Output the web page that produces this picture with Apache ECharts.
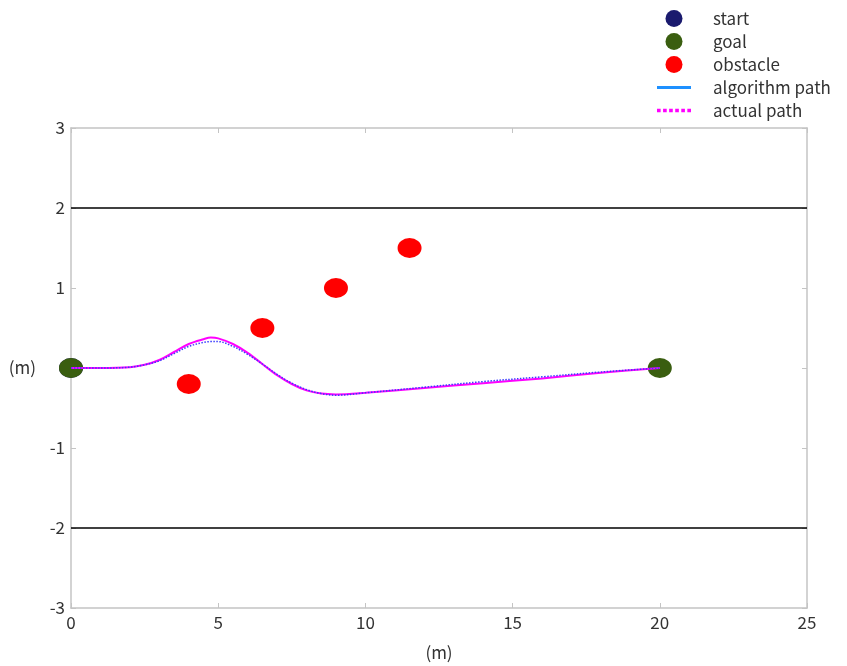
<!DOCTYPE html>
<html>
<head>
<meta charset="utf-8">
<script src="https://cdn.jsdelivr.net/npm/echarts@6/dist/echarts.min.js"></script>
<style>
  html, body { margin: 0; padding: 0; background: #fff; }
  #chart { width: 847px; height: 666px; }
</style>
</head>
<body>
<div id="chart"></div>
<script>
// Path planning scene: start/goal, obstacles, lane boundaries and two trajectories
const startPoint = [[0, 0]];
const goalPoints = [[0, 0], [20, 0]];
const obstacles = [[4, -0.2], [6.5, 0.5], [9, 1], [11.5, 1.5]];
const laneUpper = [[0, 2], [25, 2]];
const laneLower = [[0, -2], [25, -2]];

const pathX = [0, 1, 2, 2.5, 3, 3.5, 4, 4.5, 4.75, 5, 5.5, 6, 6.5, 7, 7.5, 8, 8.5, 9, 10, 12, 14, 16, 18, 20];
const algorithmY = [0, 0, 0.01, 0.04, 0.09, 0.18, 0.27, 0.32, 0.33, 0.33, 0.27, 0.17, 0.05, -0.08, -0.19, -0.27, -0.32, -0.34, -0.31, -0.24, -0.17, -0.11, -0.05, 0];
const actualY = [0, 0, 0.01, 0.04, 0.1, 0.2, 0.3, 0.36, 0.38, 0.37, 0.3, 0.19, 0.05, -0.09, -0.2, -0.28, -0.32, -0.33, -0.31, -0.25, -0.19, -0.13, -0.06, 0];

const FONT = '"Noto Sans CJK SC", "Noto Sans", sans-serif';
const AXIS_GRAY = '#c4c4c4';
const TEXT = '#333';

const zip = (xs, ys) => xs.map((x, i) => [x, ys[i]]);

const chart = echarts.init(document.getElementById('chart'), null, { renderer: 'canvas' });

// Frame axes on the top and right: line and inward ticks only
const frameAxis = {
  axisLine: { show: true, onZero: false, lineStyle: { color: AXIS_GRAY, width: 1.5 } },
  axisTick: { show: true, inside: true, length: 5, lineStyle: { color: AXIS_GRAY } },
  axisLabel: { show: false },
  splitLine: { show: false }
};

const dotIcon = 'path://' + [0, 5, 10, 15, 20, 25].map(x => `M${x},0 h3 v3 h-3 z`).join(' ') + ' M0,0 h0.01 v0.01 z M28,0 h0.01 v0.01 z';

chart.setOption({
  animation: false,
  backgroundColor: '#fff',
  textStyle: { fontFamily: FONT },
  grid: { left: 71, right: 40, top: 128, bottom: 55, containLabel: false },
  legend: {
    orient: 'vertical',
    left: 652,
    top: 5,
    itemWidth: 34,
    itemHeight: 17,
    itemGap: 6,
    textStyle: { fontSize: 17, color: TEXT, fontFamily: FONT, padding: [0, 0, 0, 17] },
    data: [
      { name: 'start', icon: 'circle' },
      { name: 'goal', icon: 'circle' },
      { name: 'obstacle', icon: 'circle' },
      { name: 'algorithm path', icon: 'path://M0,0 h34 v3 h-34 z', itemStyle: { color: '#1e90ff' } },
      { name: 'actual path', icon: dotIcon, itemStyle: { color: '#ff00ff' } }
    ]
  },
  xAxis: [
    {
      type: 'value', min: 0, max: 25, interval: 5,
      name: '(m)', nameLocation: 'middle', nameGap: 36,
      nameTextStyle: { fontSize: 17, color: TEXT, fontFamily: FONT },
      axisLine: { show: true, onZero: false, lineStyle: { color: AXIS_GRAY, width: 1.5 } },
      axisTick: { show: true, inside: true, length: 5, lineStyle: { color: AXIS_GRAY } },
      axisLabel: { fontSize: 17, color: TEXT, margin: 6, fontFamily: FONT },
      splitLine: { show: false }
    },
    Object.assign({ type: 'value', min: 0, max: 25, interval: 5, position: 'top' }, frameAxis)
  ],
  yAxis: [
    {
      type: 'value', min: -3, max: 3, interval: 1,
      name: '(m)', nameLocation: 'middle', nameGap: 35, nameRotate: 0,
      nameTextStyle: { fontSize: 17, color: TEXT, fontFamily: FONT },
      axisLine: { show: true, onZero: false, lineStyle: { color: AXIS_GRAY, width: 1.5 } },
      axisTick: { show: true, inside: true, length: 5, lineStyle: { color: AXIS_GRAY } },
      axisLabel: {
        fontSize: 17, color: TEXT, margin: 6, fontFamily: FONT,
        formatter: v => (v === 0 ? '' : String(v))
      },
      splitLine: { show: false }
    },
    Object.assign({ type: 'value', min: -3, max: 3, interval: 1, position: 'right' }, frameAxis)
  ],
  series: [
    {
      name: 'lane upper', type: 'line', data: laneUpper, showSymbol: false, silent: true,
      lineStyle: { color: '#000', width: 1.5 }, z: 1
    },
    {
      name: 'lane lower', type: 'line', data: laneLower, showSymbol: false, silent: true,
      lineStyle: { color: '#000', width: 1.5 }, z: 1
    },
    {
      name: 'start', type: 'scatter', data: startPoint, symbol: 'circle', symbolSize: [24, 20],
      itemStyle: { color: '#1a1a6e', opacity: 1 }, z: 2
    },
    {
      name: 'goal', type: 'scatter', data: goalPoints, symbol: 'circle', symbolSize: [24, 20],
      itemStyle: { color: '#3a5e10', opacity: 1 }, z: 3
    },
    {
      name: 'obstacle', type: 'scatter', data: obstacles, symbol: 'circle', symbolSize: [24, 20],
      itemStyle: { color: '#ff0000', opacity: 1 }, z: 3
    },
    {
      name: 'actual path', type: 'line', data: zip(pathX, actualY), smooth: 0.35, showSymbol: false,
      lineStyle: { color: '#ff00ff', width: 2 }, itemStyle: { color: '#ff00ff' }, z: 4
    },
    {
      name: 'algorithm path', type: 'line', data: zip(pathX, algorithmY), smooth: 0.35, showSymbol: false,
      lineStyle: { color: '#3b3bff', width: 1.5, type: [1.5, 1.5] }, itemStyle: { color: '#1e90ff' }, z: 5
    }
  ]
});
</script>
</body>
</html>
